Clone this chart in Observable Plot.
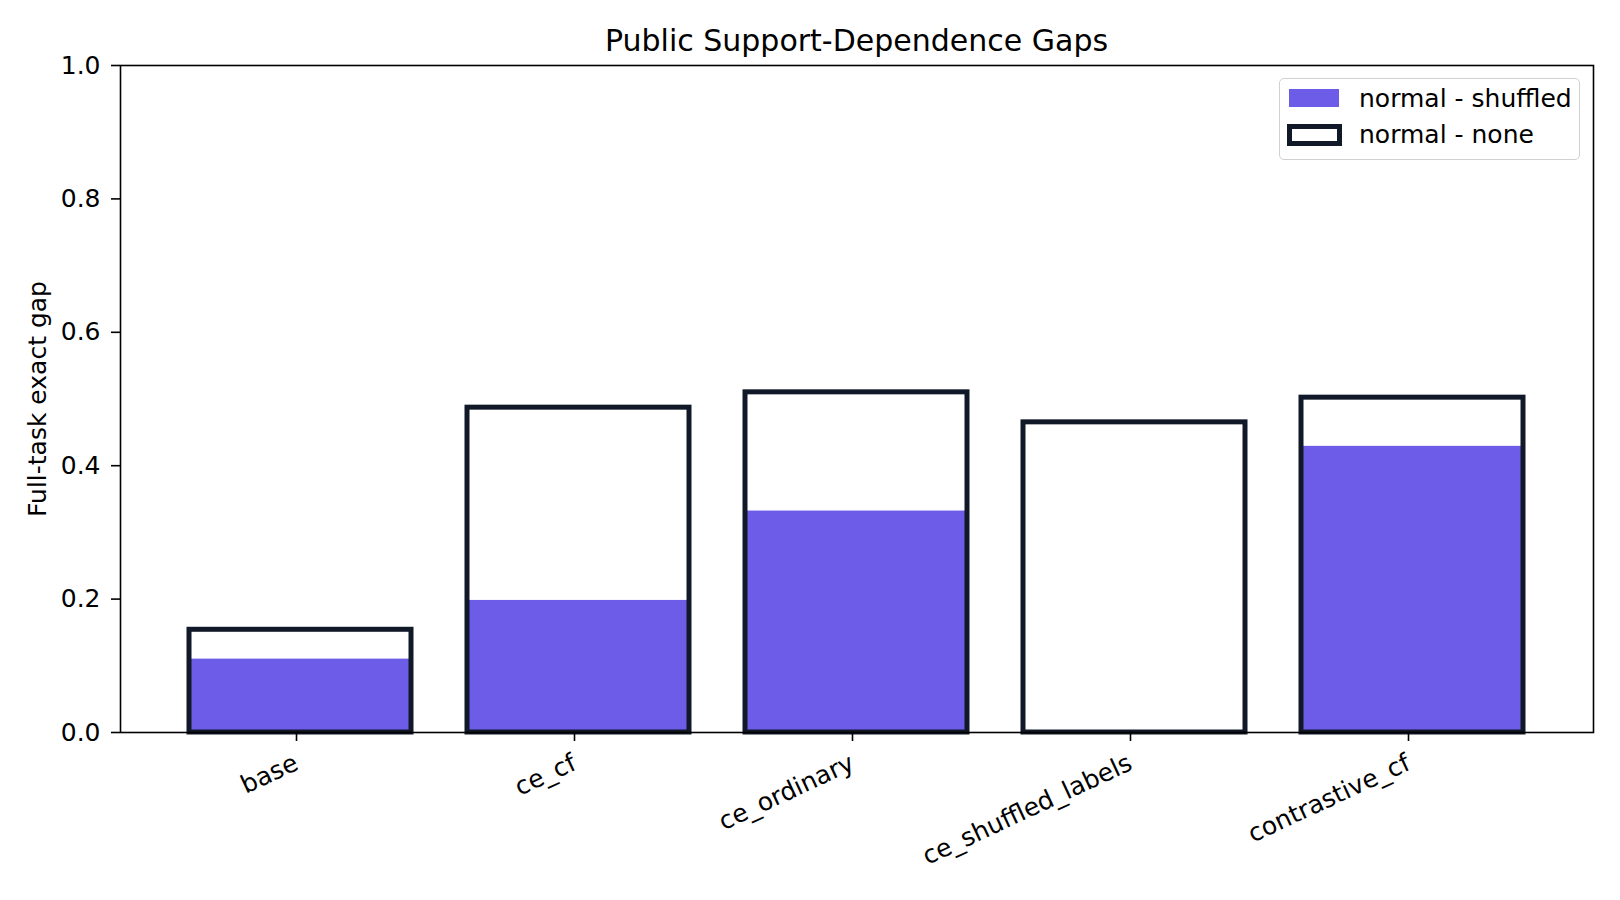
<!DOCTYPE html>
<html>
<head>
<meta charset="utf-8">
<script src="https://cdn.jsdelivr.net/npm/d3@7"></script>
<script src="https://cdn.jsdelivr.net/npm/@observablehq/plot@0.6"></script>
<style>
  body { margin: 0; background: #fff; font-family: "DejaVu Sans", sans-serif; }
  #wrap { position: relative; width: 1620px; height: 900px; overflow: hidden; background: #fff; }
  #title { height: 46px; box-sizing: border-box; padding-top: 26px; padding-left: 120px; width: 1593px;
           text-align: center; font-size: 30px; line-height: 1; color: #000; white-space: nowrap; overflow: visible; }
  #chart svg { display: block; }
  #legend { position: absolute; left: 1279px; top: 78px; width: 301px; height: 82px; box-sizing: border-box;
            border: 1.5px solid #d0d0d0; border-radius: 5px; background: rgba(255,255,255,0.8); }
  .sw { position: absolute; box-sizing: border-box; }
  .lt { position: absolute; left: 79px; font-size: 25px; line-height: 1; white-space: nowrap; color: #000; }
</style>
</head>
<body>
<div id="wrap">
  <div id="title"></div>
  <div id="chart"></div>
  <div id="legend"></div>
</div>
<script>
const chartTitle = "Public Support-Dependence Gaps";
const yLabel = "Full-task exact gap";
const categories = ["base", "ce_cf", "ce_ordinary", "ce_shuffled_labels", "contrastive_cf"];
const normalMinusShuffled = [0.110, 0.198, 0.332, 0.0, 0.429];
const normalMinusNone = [0.154, 0.487, 0.510, 0.465, 0.502];
const yTicks = [0, 0.2, 0.4, 0.6, 0.8, 1.0];
const seriesNames = ["normal - shuffled", "normal - none"];
const fillColor = "#6c5ce7";
const edgeColor = "#111827";

const rows = categories.map((c, i) => ({category: c, shuffled: normalMinusShuffled[i], none: normalMinusNone[i]}));

document.getElementById("title").textContent = chartTitle;

const chart = Plot.plot({
  width: 1620,
  height: 854,
  marginTop: 19,
  marginBottom: 168,
  marginLeft: 120,
  marginRight: 27,
  style: {fontFamily: "DejaVu Sans", fontSize: "25px", background: "transparent", color: "black", overflow: "visible"},
  x: {domain: categories, paddingInner: 0.2, paddingOuter: 0.24, label: null},
  y: {domain: [0, 1], label: yLabel},
  marks: [
    Plot.barY(rows, {x: "category", y: "shuffled", fill: fillColor, inset: 0}),
    Plot.barY(rows, {x: "category", y: "none", fill: "none", stroke: edgeColor, strokeWidth: 5, inset: 0}),
    Plot.frame({stroke: "black", strokeWidth: 1.6}),
    Plot.axisY({ticks: yTicks, tickFormat: d3.format(".1f"), tickSize: 9, tickPadding: 11, strokeWidth: 1.6,
                label: yLabel, labelAnchor: "center", labelArrow: "none", labelOffset: 92, fontSize: 25}),
    Plot.axisX({tickSize: 9, tickRotate: -25, tickPadding: 20, dx: -4, strokeWidth: 1.6, label: null, fontSize: 25})
  ]
});
document.getElementById("chart").appendChild(chart);

const legend = document.getElementById("legend");
legend.innerHTML = `
  <div class="sw" style="left:9px;top:10px;width:50px;height:18px;background:${fillColor}"></div>
  <div class="lt" style="top:6.5px">${seriesNames[0]}</div>
  <div class="sw" style="left:7px;top:45px;width:55px;height:22px;border:5px solid ${edgeColor};background:#fff"></div>
  <div class="lt" style="top:42.5px">${seriesNames[1]}</div>
`;
</script>
</body>
</html>
